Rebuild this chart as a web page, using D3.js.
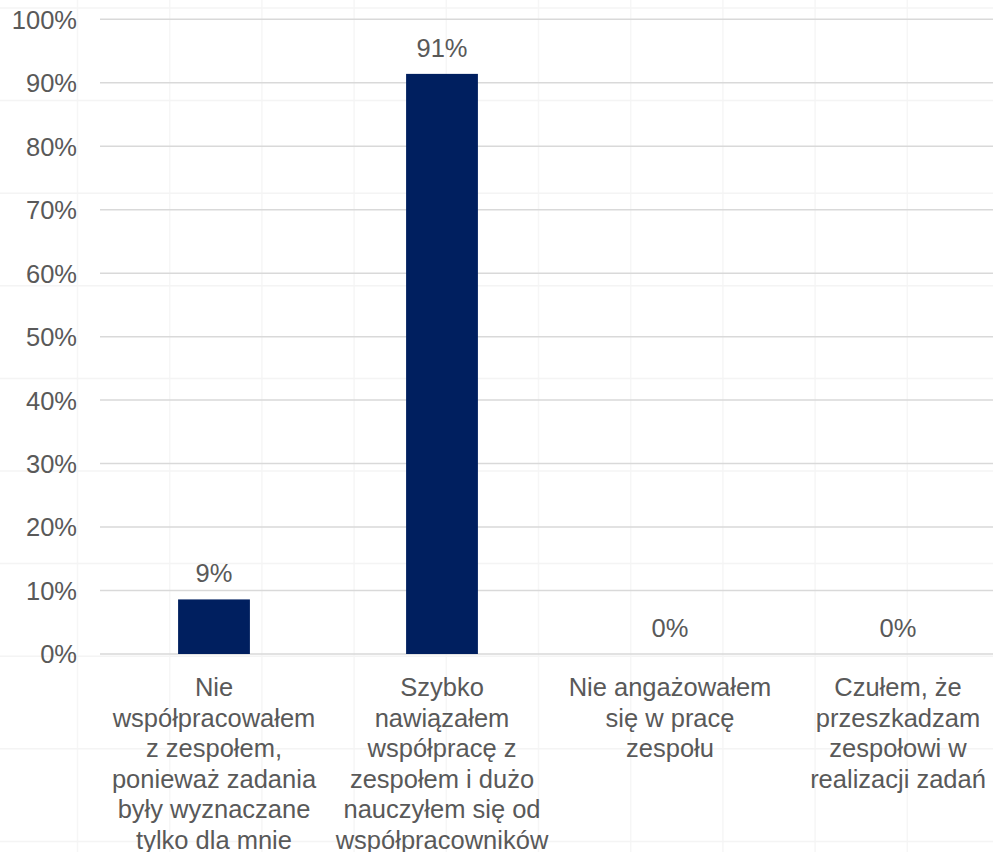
<!DOCTYPE html>
<html><head><meta charset="utf-8">
<script src="https://cdn.jsdelivr.net/npm/d3@7"></script>
<style>
html,body{margin:0;padding:0;background:#fff;}
svg{display:block;font-family:"Liberation Sans",Arial,Helvetica,sans-serif;}
</style></head>
<body><svg id="c" width="993" height="852"></svg>
<script>
const categories = [
  "Nie współpracowałem z zespołem, ponieważ zadania były wyznaczane tylko dla mnie",
  "Szybko nawiązałem współpracę z zespołem i dużo nauczyłem się od współpracowników",
  "Nie angażowałem się w pracę zespołu",
  "Czułem, że przeszkadzam zespołowi w realizacji zadań"
];
const categoryLines = [
  ["Nie", "współpracowałem", "z zespołem,", "ponieważ zadania", "były wyznaczane", "tylko dla mnie"],
  ["Szybko", "nawiązałem", "współpracę z", "zespołem i dużo", "nauczyłem się od", "współpracowników"],
  ["Nie angażowałem", "się w pracę", "zespołu"],
  ["Czułem, że", "przeszkadzam", "zespołowi w", "realizacji zadań"]
];
const values = [8.6, 91.4, 0, 0];
const valueLabels = ["9%", "91%", "0%", "0%"];
const yTicks = [0, 10, 20, 30, 40, 50, 60, 70, 80, 90, 100];

const W = 993, H = 852;
const margin = {left: 100, right: -19, top: 19.3, bottom: 198};
const svg = d3.select("#c");

// faint background grid (decorative)
const bg = svg.append("g");
const bgX = d3.range(77.5, W, 92.2), bgY = d3.range(8, H, 92.6);
bg.selectAll("line.v").data(bgX).join("line")
  .attr("x1", d => d).attr("x2", d => d).attr("y1", 0).attr("y2", H)
  .attr("stroke", "#f6f6f6").attr("stroke-width", 1.5);
bg.selectAll("line.h").data(bgY).join("line")
  .attr("y1", d => d).attr("y2", d => d).attr("x1", 0).attr("x2", W)
  .attr("stroke", "#f4f4f4").attr("stroke-width", 1.5);

const x = d3.scaleBand().domain(categories)
  .range([margin.left, W - margin.right]).paddingInner(0.685).paddingOuter(0.3425);
const y = d3.scaleLinear().domain([0, 100]).range([H - margin.bottom, margin.top]);

const textColor = "#595959";

// gridlines
svg.append("g").selectAll("line").data(yTicks).join("line")
  .attr("x1", margin.left).attr("x2", W)
  .attr("y1", d => y(d)).attr("y2", d => y(d))
  .attr("stroke", "#d9d9d9").attr("stroke-width", 1.5);

// y axis labels
const yAxis = d3.axisLeft(y).tickValues(yTicks).tickFormat(d => d + "%").tickSize(0).tickPadding(0);
const ga = svg.append("g").attr("transform", `translate(77,0)`).call(yAxis);
ga.select(".domain").remove();
ga.selectAll("text").attr("font-size", 25.5).attr("fill", textColor)
  .attr("font-family", "Liberation Sans, Arial, sans-serif").attr("dy", "0.35em");

// bars
svg.append("g").selectAll("rect").data(values).join("rect")
  .attr("x", (d, i) => x(categories[i]))
  .attr("width", x.bandwidth())
  .attr("y", d => y(d))
  .attr("height", d => y(0) - y(d))
  .attr("fill", "#001f5f");

// value labels
svg.append("g").selectAll("text").data(values).join("text")
  .attr("x", (d, i) => x(categories[i]) + x.bandwidth() / 2)
  .attr("y", d => y(d) - 17)
  .attr("text-anchor", "middle")
  .attr("font-size", 25.5).attr("fill", textColor)
  .text((d, i) => valueLabels[i]);

// category labels
const cg = svg.append("g").selectAll("text").data(categories).join("text")
  .attr("text-anchor", "middle")
  .attr("font-size", 25.5).attr("fill", textColor)
  .attr("transform", d => `translate(${x(d) + x.bandwidth() / 2},${y(0) + 42})`);
cg.selectAll("tspan").data((d, i) => categoryLines[i]).join("tspan")
  .attr("x", 0).attr("y", (d, j) => j * 30.5).text(d => d);
</script>
</body></html>
